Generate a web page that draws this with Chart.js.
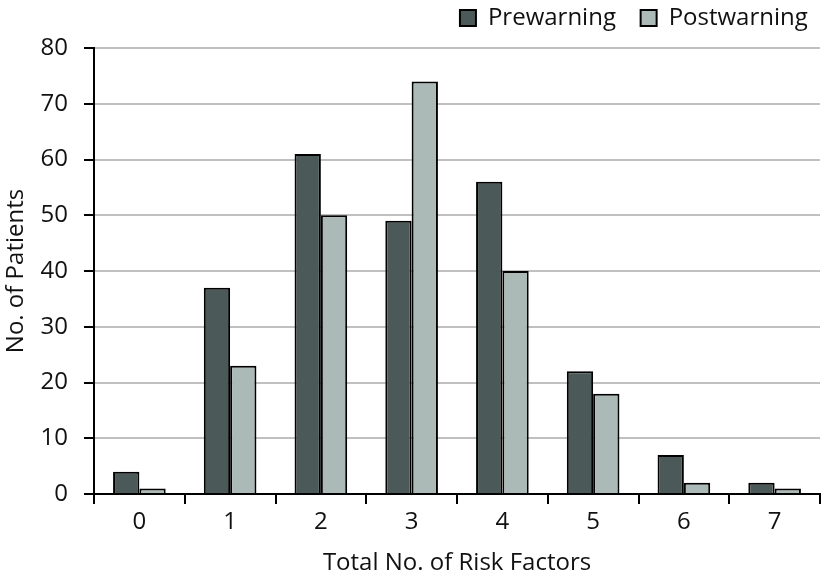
<!DOCTYPE html>
<html>
<head>
<meta charset="utf-8">
<script src="https://cdn.jsdelivr.net/npm/chart.js@4/dist/chart.umd.min.js"></script>
<style>
  html, body { margin: 0; padding: 0; background: #fff; }
  #wrap { width: 824px; height: 580px; }
</style>
</head>
<body>
<div id="wrap"><canvas id="c" width="824" height="580"></canvas></div>
<script>
const categories = ["0", "1", "2", "3", "4", "5", "6", "7"];
const prewarning = [4, 37, 61, 49, 56, 22, 7, 2];
const postwarning = [1, 23, 50, 74, 40, 18, 2, 1];
const yTicks = [0, 10, 20, 30, 40, 50, 60, 70, 80];

const FONT = "'Open Sans', 'Noto Sans', sans-serif";
const TEXT = "#111";

const data = {
  labels: categories,
  datasets: [
    {
      label: "Prewarning",
      data: prewarning,
      backgroundColor: "#4b5a58",
      borderColor: "#000",
      borderWidth: 2,
      borderSkipped: "bottom",
    },
    {
      label: "Postwarning",
      data: postwarning,
      backgroundColor: "#abbab6",
      borderColor: "#000",
      borderWidth: 2,
      borderSkipped: "bottom",
    },
  ],
};

// keep the legend band a fixed height so the plot starts where it should
const legendHeight = {
  id: "legendHeight",
  afterInit(chart) {
    const lg = chart.legend;
    if (!lg) return;
    const fit = lg.fit;
    lg.fit = function () {
      fit.call(this);
      this.height = 48;
    };
  },
};

const config = {
  type: "bar",
  data,
  options: {
    responsive: false,
    animation: false,
    layout: { padding: { left: 0, right: 4, top: 0, bottom: 0 } },
    datasets: {
      bar: { categoryPercentage: 0.58, barPercentage: 1 },
    },
    plugins: {
      legend: {
        align: "end",
        labels: {
          color: TEXT,
          font: { family: FONT, size: 24 },
          boxWidth: 16,
          boxHeight: 16,
          padding: 6,
          generateLabels(chart) {
            const items = Chart.defaults.plugins.legend.labels.generateLabels(chart);
            // extra spacing between the two entries
            items.forEach((it, i) => { it.text = i < items.length - 1 ? it.text + "   " : it.text + " "; });
            return items;
          },
        },
      },
      tooltip: { enabled: false },
    },
    scales: {
      x: {
        offset: true,
        grid: {
          offset: true,
          drawOnChartArea: false,
          drawTicks: true,
          tickColor: "#000",
          tickLength: 10,
          lineWidth: 2,
        },
        border: { color: "#000", width: 2 },
        ticks: { color: TEXT, font: { family: FONT, size: 24 }, padding: 4 },
        title: {
          display: true,
          text: "Total No. of Risk Factors",
          color: TEXT,
          font: { family: FONT, size: 24 },
          padding: { top: 10, bottom: 2 },
        },
        afterFit(scale) { scale.height = 86; },
      },
      y: {
        min: 0,
        max: 80,
        afterBuildTicks(scale) { scale.ticks = yTicks.map(v => ({ value: v })); },
        grid: {
          color: "#c0c0c0",
          lineWidth: 2,
          tickColor: "#000",
          tickLength: 10,
        },
        border: { color: "#000", width: 2 },
        ticks: { color: TEXT, font: { family: FONT, size: 24 }, padding: 16 },
        title: {
          display: true,
          text: "No. of Patients",
          color: TEXT,
          font: { family: FONT, size: 24 },
          padding: { top: 2, bottom: 4 },
        },
        afterFit(scale) { scale.width = 94; },
      },
    },
  },
  plugins: [legendHeight],
};

new Chart(document.getElementById("c"), config);
</script>
</body>
</html>
